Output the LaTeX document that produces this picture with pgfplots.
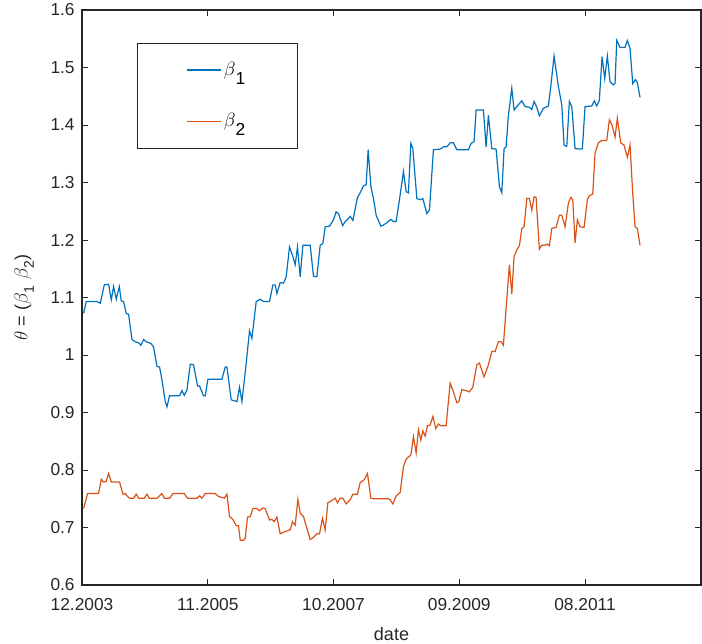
\documentclass[border=0pt]{standalone}
\usepackage{fontspec}
\setmainfont{Liberation Sans}
\usepackage{pgfplots}
\usepackage{pgfplotstable}
\pgfplotsset{compat=1.18}
\definecolor{mblue}{rgb}{0,0.447,0.741}
\definecolor{mred}{rgb}{0.85,0.325,0.098}
\definecolor{mgray}{rgb}{0.15,0.15,0.15}
\newcommand\lsub[1]{\raisebox{-0.45em}{\fontsize{13}{15}\selectfont #1}}
\newcommand\ysub[1]{\raisebox{-0.35em}{\fontsize{10.5}{12}\selectfont #1}}

% x: time position (12.2003 = 81.7, one tick step = 125.8)
\pgfplotstableread{
x y
83.3 1.0725
86 1.093
96.7 1.093
100 1.090
104 1.122
108.3 1.123
111 1.096
113.3 1.119
116 1.097
119 1.119
121 1.094
123.3 1.093
126 1.072
128.3 1.071
131.7 1.027
135 1.023
138.3 1.021
140.7 1.017
143.3 1.027
146 1.023
150.7 1.020
153.3 1.014
156.7 0.980
159.3 0.979
161.7 0.957
165 0.919
166.7 0.910
169.3 0.929
173.3 0.929
179.3 0.929
181.7 0.938
184 0.930
186.7 0.939
190 0.984
193.3 0.983
197.3 0.946
199.3 0.946
203.3 0.929
205 0.929
207.7 0.958
221.7 0.958
225 0.979
226.7 0.979
231 0.922
236.7 0.919
239.3 0.944
241.7 0.919
246 0.986
249.3 1.042
251.7 1.029
256 1.093
260 1.097
263.3 1.093
269.3 1.093
272.7 1.122
275 1.122
276.7 1.107
280 1.126
283.3 1.125
286 1.136
289.3 1.188
292.7 1.171
295 1.157
297.3 1.188
300 1.136
302.7 1.191
310 1.191
313.3 1.137
316.7 1.136
320 1.191
322.7 1.194
325 1.223
329.3 1.224
333.3 1.235
336 1.249
338.3 1.246
342.5 1.225
345 1.232
350 1.241
352.7 1.234
357.3 1.274
360 1.282
363.3 1.294
366 1.296
368 1.357
370.7 1.293
373.3 1.272
376 1.243
380.7 1.224
383.3 1.226
386.7 1.230
390.7 1.236
393.3 1.232
396 1.232
399.3 1.270
403.3 1.319
406 1.284
408.3 1.282
410.7 1.368
412.7 1.359
416.7 1.272
420 1.270
422.7 1.272
426.7 1.246
429.3 1.252
433.3 1.357
440 1.358
443.3 1.362
446.7 1.362
450 1.369
453.3 1.369
456.7 1.357
468.3 1.357
471 1.368
474 1.371
476 1.426
483.3 1.426
486 1.362
488.3 1.417
491.7 1.359
496 1.358
499.3 1.293
501.7 1.282
504 1.359
506 1.362
508.3 1.417
511.7 1.464
514 1.426
516.7 1.432
521.7 1.442
525 1.432
529.3 1.431
531.7 1.427
534 1.441
536.7 1.431
539.3 1.416
543.3 1.429
548.3 1.433
550.7 1.467
554 1.520
558.3 1.467
561.7 1.435
564 1.365
566.7 1.363
569.3 1.441
571.7 1.432
575 1.359
580.7 1.358
582.3 1.359
585 1.432
591.7 1.433
594.3 1.442
596.7 1.433
599.3 1.443
602 1.519
604.7 1.481
607.3 1.520
610 1.475
613.3 1.470
615 1.472
616.7 1.547
620 1.535
625 1.535
627.3 1.547
630 1.533
632.7 1.472
635.3 1.479
637.3 1.474
640 1.448
}\betaone

\pgfplotstableread{
x y
83.3 0.733
87.3 0.759
98.3 0.759
101 0.784
103.3 0.779
106 0.780
108.3 0.794
111 0.779
119.3 0.779
122.7 0.758
125 0.759
126.7 0.755
129.3 0.751
133.3 0.751
136 0.758
138.3 0.751
144 0.751
146.7 0.758
149 0.751
156.7 0.751
161.7 0.759
164 0.751
169.3 0.751
172.7 0.759
184 0.759
187.3 0.751
196.7 0.751
199.3 0.755
201.7 0.751
205 0.759
215 0.759
218.3 0.754
224 0.751
226.7 0.758
229.3 0.719
232.7 0.714
236 0.703
238.3 0.703
240 0.678
243.3 0.678
245 0.681
247.3 0.718
250 0.719
252.7 0.733
256.7 0.733
259.3 0.729
262.7 0.734
265 0.733
269.3 0.713
271.7 0.714
274 0.710
276.7 0.718
280 0.689
285 0.693
290 0.696
292.3 0.710
295 0.704
297.7 0.749
300 0.725
303.3 0.719
310 0.679
313.3 0.683
316.7 0.689
319.3 0.689
322.3 0.716
325 0.696
327.7 0.743
331.7 0.747
335 0.751
337.3 0.743
340 0.751
342.7 0.751
346 0.741
350 0.748
352.7 0.758
357.3 0.758
360 0.778
364 0.783
367.3 0.794
370.7 0.751
373.3 0.750
388.3 0.750
390 0.748
392.7 0.741
396 0.755
400 0.761
403.3 0.806
406 0.819
410.7 0.826
413.3 0.858
416 0.830
418.3 0.870
420.7 0.852
422.7 0.868
425 0.859
427.3 0.877
430 0.878
432.7 0.893
435.7 0.872
438.3 0.880
440.7 0.877
446 0.877
450 0.951
453.3 0.936
456.7 0.917
458.7 0.919
461.7 0.940
466 0.938
469.3 0.936
472.7 0.944
476.7 0.983
479.3 0.986
484 0.962
488.3 0.983
491.7 1.006
495 1.006
498.3 1.023
501 1.023
503.3 1.017
506.7 1.097
509.3 1.157
511.7 1.106
514 1.171
516.7 1.183
519.3 1.190
521.7 1.220
524 1.223
526.7 1.272
529.3 1.272
531.7 1.252
534 1.275
536 1.274
539.3 1.184
541.7 1.191
545 1.191
547.3 1.193
549.3 1.190
551.7 1.220
556 1.222
559.3 1.243
561.7 1.243
565 1.223
568.3 1.264
570.7 1.274
572.7 1.270
575 1.195
577.3 1.235
580 1.223
584 1.222
587.3 1.270
589.3 1.277
592.7 1.280
595 1.351
598.3 1.369
601.7 1.373
606.7 1.373
609.3 1.409
612 1.400
615 1.379
617.3 1.412
620.7 1.369
624 1.365
627.3 1.344
630 1.365
632.7 1.281
635 1.223
637.3 1.220
640 1.191
}\betatwo

\begin{document}
\fontsize{13}{15}\selectfont
\begin{tikzpicture}
\begin{axis}[
  scale only axis,
  width=464.25pt, height=431.25pt,
  xmin=81.7, xmax=701, ymin=0.6, ymax=1.6,
  xtick={81.7,207.5,333.3,459.1,584.9},
  xticklabels={12.2003,11.2005,10.2007,09.2009,08.2011},
  ytick={0.6,0.7,0.8,0.9,1.0,1.1,1.2,1.3,1.4,1.5,1.6},
  yticklabels={0.6,0.7,0.8,0.9,1,1.1,1.2,1.3,1.4,1.5,1.6},
  axis line style={mgray, line width=0.8pt},
  tick style={mgray, line width=0.6pt},
  major tick length=4.5pt,
  tick label style={font=\fontsize{13}{15}\selectfont, text=mgray},
  xticklabel style={yshift=-5.4pt},
  yticklabel style={xshift=-1pt},
  xlabel={date},
  ylabel={$\theta$ = ($\beta$\ysub{1}\hspace{0.3em}$\beta$\ysub{2})},
  label style={font=\fontsize{13.5}{15}\selectfont, text=mgray},
  xlabel style={at={(axis description cs:0.5,-0.0957)}, anchor=base},
  ylabel style={at={(axis description cs:-0.0937,0.5)}, anchor=center},
  legend style={at={(0.0889,0.9426)}, anchor=north west, draw=mgray, line width=0.6pt,
    inner xsep=37pt, inner ysep=12pt, row sep=22.5pt,
    font=\fontsize{15}{18}\selectfont},
  legend cell align=left,
  legend image code/.code={\draw[#1] (0pt,0pt) -- (25pt,0pt);},
]
\addplot[mblue, line width=0.9pt] table[x=x,y=y] {\betaone};
\addlegendentry{$\beta$\lsub{1}}
\addplot[mred, line width=0.9pt] table[x=x,y=y] {\betatwo};
\addlegendentry{$\beta$\lsub{2}}
\end{axis}
\pgfresetboundingbox
\useasboundingbox (-61.5pt,-43.5pt) rectangle (465pt,438.75pt);
\end{tikzpicture}
\end{document}
